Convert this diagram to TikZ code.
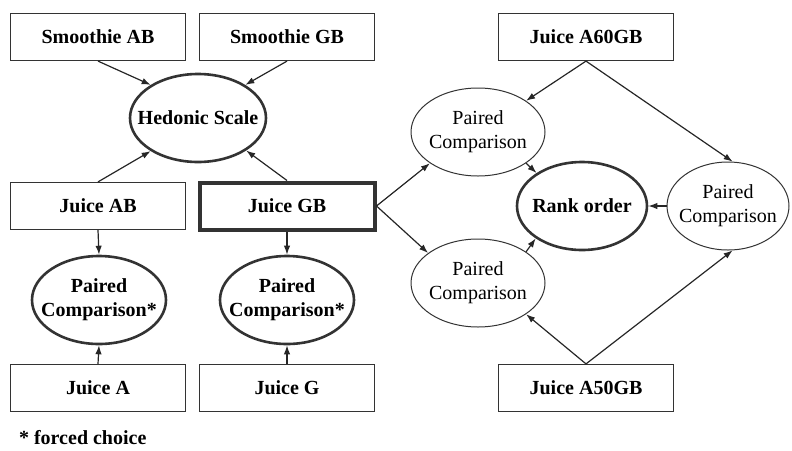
\documentclass[tikz,border=0pt]{standalone}
\usepackage{fontspec}
\setmainfont{Liberation Serif}
\usetikzlibrary{arrows.meta,shapes.geometric}

\begin{document}
\begin{tikzpicture}[x=0.5pt,y=-0.5pt,>={Latex[length=4.5pt,width=3.2pt]}]
  \tikzset{
    box/.style={rectangle,draw=black!80,line width=0.6pt,minimum width=87.5pt,minimum height=23.5pt,
                inner sep=0pt,font=\bfseries},
    oval/.style={ellipse,draw=black!80,line width=0.5pt,minimum width=67pt,minimum height=44pt,
                 inner sep=-12pt,align=center},
    boval/.style={oval,line width=1.3pt,font=\bfseries},
    arr/.style={->,line width=0.6pt,black!85}}
  \useasboundingbox (0,0) rectangle (792,450);
  % hedonic part
  \node[box](sab) at (98,37){Smoothie AB};
  \node[box](sgb) at (287,37){Smoothie GB};
  \node[boval,minimum width=68pt](hed) at (198,118){Hedonic Scale};
  \node[box](jab) at (98,206){Juice AB};
  \node[box,line width=2pt](jgb) at (287,206){Juice GB};
  \node[boval](pcl) at (99,300){Paired\\Comparison*};
  \node[boval](pcm) at (287,300){Paired\\Comparison*};
  \node[box](ja) at (98,388){Juice A};
  \node[box](jg) at (287,388){Juice G};
  \node[font=\bfseries,anchor=west](fc) at (12,438){* forced choice};
  % ranking part
  \node[box](j60) at (586,37){Juice A60GB};
  \node[oval](pct) at (478,132){Paired\\Comparison};
  \node[boval,minimum width=65pt](rank) at (582,206){Rank order};
  \node[oval,minimum width=61pt](pcr) at (728,206){Paired\\Comparison};
  \node[oval](pcb) at (478,283){Paired\\Comparison};
  \node[box](j50) at (586,388){Juice A50GB};
  \draw[arr](sab.south)--(hed.145);
  \draw[arr](sgb.south)--(hed.35);
  \draw[arr](jab.north)--(hed.215);
  \draw[arr](jgb.north)--(hed.326);
  \draw[arr](jab.south)--(pcl.north);
  \draw[arr](ja.north)--(pcl.south);
  \draw[arr](jgb.south)--(pcm.north);
  \draw[arr](jg.north)--(pcm.south);
  \draw[arr](jgb.east)--(pct.213);
  \draw[arr](jgb.east)--(pcb.149);
  \draw[arr](j60.south)--(pct.33);
  \draw[arr](j60.south)--(pcr.84);
  \draw[arr](j50.north)--(pcb.327);
  \draw[arr](j50.north)--(pcr.276);
  \draw[arr](pct.327)--(rank.144);
  \draw[arr](pcb.33)--(rank.215);
  \draw[arr](pcr.west)--(rank.east);
\end{tikzpicture}
\end{document}
